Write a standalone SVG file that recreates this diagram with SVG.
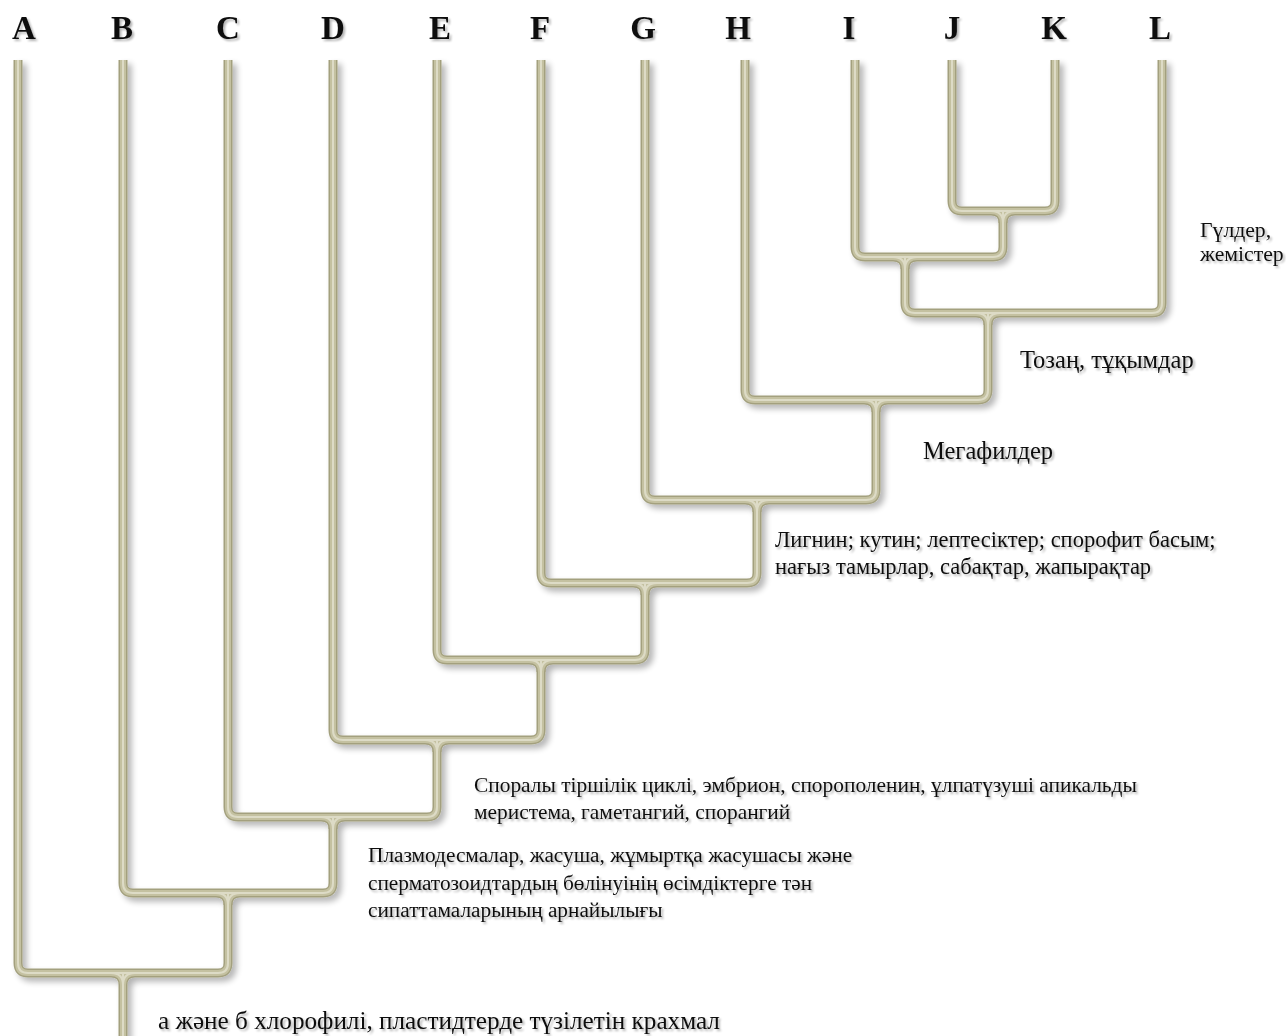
<svg xmlns="http://www.w3.org/2000/svg" width="1286" height="1036" viewBox="0 0 1286 1036">
<style>
.bg{fill:#ffffff}
.tip{font-family:"Liberation Serif","Times New Roman",serif;font-weight:bold;font-size:33px;fill:#111;text-anchor:middle}
.lbl{font-family:"Liberation Serif","Times New Roman",serif;font-size:21.3px;fill:#111}
.s-lig{font-size:22.5px}
.s-spo{font-size:21.4px}
.s-big{font-size:24.5px}
.s-chl{font-size:25.2px}
.s-fl{font-size:21.7px}
.p{fill:none;stroke-linejoin:round;stroke-linecap:butt}
.p1{stroke:#a3a07e;stroke-width:9}
.p2{stroke:#c4c1a1;stroke-width:6}
.p3{stroke:#dddbc6;stroke-width:2}
</style>
<defs>
<filter id="sh" x="-10%" y="-10%" width="120%" height="120%">
<feGaussianBlur in="SourceAlpha" stdDeviation="3" result="b"/>
<feOffset in="b" dx="4" dy="4" result="o"/>
<feComponentTransfer in="o" result="s"><feFuncA type="linear" slope="0.3"/></feComponentTransfer>
<feMerge><feMergeNode in="s"/><feMergeNode in="SourceGraphic"/></feMerge>
</filter>
<filter id="tsh" x="-5%" y="-20%" width="110%" height="140%">
<feGaussianBlur in="SourceAlpha" stdDeviation="1.2" result="b"/>
<feOffset in="b" dx="1.5" dy="1.5" result="o"/>
<feComponentTransfer in="o" result="s"><feFuncA type="linear" slope="0.3"/></feComponentTransfer>
<feMerge><feMergeNode in="s"/><feMergeNode in="SourceGraphic"/></feMerge>
</filter>
<path id="c1" d="M952,60 V201 Q952,211 962,211 H1045 Q1055,211 1055,201 V60 M991,211 Q1003,211 1003,223 M1015,211 Q1003,211 1003,223"/>
<path id="c2" d="M855,60 V247 Q855,257 865,257 H993 Q1003,257 1003,247 V211 M893,257 Q905,257 905,269 M917,257 Q905,257 905,269"/>
<path id="c3" d="M905,257 V303 Q905,313 915,313 H1152 Q1162,313 1162,303 V60 M976,313 Q988,313 988,325 M1000,313 Q988,313 988,325"/>
<path id="c4" d="M745,60 V390 Q745,400 755,400 H978 Q988,400 988,390 V313 M864,400 Q876,400 876,412 M888,400 Q876,400 876,412"/>
<path id="c5" d="M645,60 V490 Q645,500 655,500 H866 Q876,500 876,490 V400 M745,500 Q757,500 757,512 M769,500 Q757,500 757,512"/>
<path id="c6" d="M541,60 V573 Q541,583 551,583 H747 Q757,583 757,573 V500 M633,583 Q645,583 645,595 M657,583 Q645,583 645,595"/>
<path id="c7" d="M437,60 V650 Q437,660 447,660 H635 Q645,660 645,650 V583 M529,660 Q541,660 541,672 M553,660 Q541,660 541,672"/>
<path id="c8" d="M333,60 V730 Q333,740 343,740 H531 Q541,740 541,730 V660 M425,740 Q437,740 437,752 M449,740 Q437,740 437,752"/>
<path id="c9" d="M228,60 V807 Q228,817 238,817 H427 Q437,817 437,807 V740 M321,817 Q333,817 333,829 M345,817 Q333,817 333,829"/>
<path id="c10" d="M123,60 V883 Q123,893 133,893 H323 Q333,893 333,883 V817 M216,893 Q228,893 228,905 M240,893 Q228,893 228,905"/>
<path id="c11" d="M18,60 V963 Q18,973 28,973 H218 Q228,973 228,963 V893 M111,973 Q123,973 123,985 M135,973 Q123,973 123,985 M123,973 V1040"/>
</defs>
<rect class="bg" x="0" y="0" width="1286" height="1036"/>
<g id="connectors" filter="url(#sh)">
<g class="p p1"><use href="#c1"/><use href="#c2"/><use href="#c3"/><use href="#c4"/><use href="#c5"/><use href="#c6"/><use href="#c7"/><use href="#c8"/><use href="#c9"/><use href="#c10"/><use href="#c11"/></g>
<g class="p p2"><use href="#c1"/><use href="#c2"/><use href="#c3"/><use href="#c4"/><use href="#c5"/><use href="#c6"/><use href="#c7"/><use href="#c8"/><use href="#c9"/><use href="#c10"/><use href="#c11"/></g>
<g class="p p3"><use href="#c1"/><use href="#c2"/><use href="#c3"/><use href="#c4"/><use href="#c5"/><use href="#c6"/><use href="#c7"/><use href="#c8"/><use href="#c9"/><use href="#c10"/><use href="#c11"/></g>
</g>
<g id="taxa" filter="url(#tsh)">
<g id="node-A"><text class="tip" x="24" y="39">A</text></g>
<g id="node-B"><text class="tip" x="122" y="39">B</text></g>
<g id="node-C"><text class="tip" x="228" y="39">C</text></g>
<g id="node-D"><text class="tip" x="333" y="39">D</text></g>
<g id="node-E"><text class="tip" x="440" y="39">E</text></g>
<g id="node-F"><text class="tip" x="540" y="39">F</text></g>
<g id="node-G"><text class="tip" x="643" y="39">G</text></g>
<g id="node-H"><text class="tip" x="738" y="39">H</text></g>
<g id="node-I"><text class="tip" x="849" y="39">I</text></g>
<g id="node-J"><text class="tip" x="952" y="39">J</text></g>
<g id="node-K"><text class="tip" x="1054" y="39">K</text></g>
<g id="node-L"><text class="tip" x="1160" y="39">L</text></g>
</g>
<g id="labels" filter="url(#tsh)">
<g id="label-flowers"><text class="lbl s-fl" x="1200" y="237">Гүлдер,</text><text class="lbl s-fl" x="1200" y="261">жемістер</text></g>
<g id="label-pollen"><text class="lbl s-big" x="1020" y="368">Тозаң, тұқымдар</text></g>
<g id="label-megaphyll"><text class="lbl s-big" x="923" y="459">Мегафилдер</text></g>
<g id="label-lignin"><text class="lbl s-lig" x="775" y="547">Лигнин; кутин; лептесіктер; спорофит басым;</text><text class="lbl s-lig" x="775" y="574">нағыз тамырлар, сабақтар, жапырақтар</text></g>
<g id="label-spore"><text class="lbl s-spo" x="474" y="792">Споралы тіршілік циклі, эмбрион, спорополенин, ұлпатүзуші апикальды</text><text class="lbl s-spo" x="474" y="819">меристема, гаметангий, спорангий</text></g>
<g id="label-plasmo"><text class="lbl" x="368" y="862">Плазмодесмалар, жасуша, жұмыртқа жасушасы және</text><text class="lbl" x="368" y="890">сперматозоидтардың бөлінуінің өсімдіктерге тән</text><text class="lbl" x="368" y="917">сипаттамаларының арнайылығы</text></g>
<g id="label-chloro"><text class="lbl s-chl" x="158" y="1029">а және б хлорофилі, пластидтерде түзілетін крахмал</text></g>
</g>
</svg>
